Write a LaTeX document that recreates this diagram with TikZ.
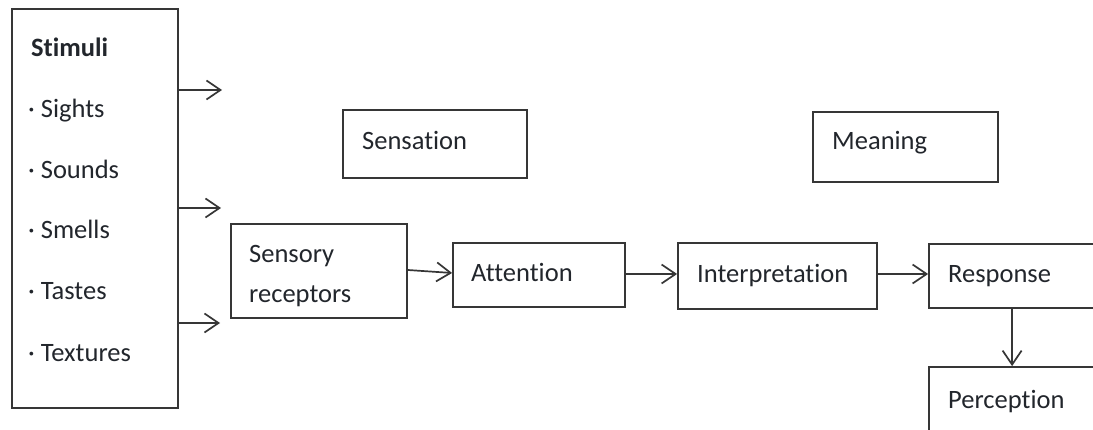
\documentclass[tikz,border=0pt]{standalone}
\usepackage{fontspec}
\setmainfont{Carlito}[Ligatures={NoCommon}]
\usetikzlibrary{arrows.meta}
\definecolor{linegray}{HTML}{363636}
\definecolor{textgray}{HTML}{22262C}
\begin{document}
\begin{tikzpicture}[x=1pt,y=-1pt,
  box/.style={draw=linegray, line width=1.8pt, rectangle, inner sep=0pt},
  lbl/.style={anchor=base west, inner sep=0pt, text=textgray,
              font=\fontsize{26.5}{30}\selectfont},
  arr/.style={draw=linegray, line width=1.7pt,
              -{Straight Barb[length=14pt,width=19pt,line width=1.7pt]}}]
  % page frame; boxes on the right run past the edge
  \clip (0,0) rectangle (1093,430);
  \fill[white] (0,0) rectangle (1093,430);

  % boxes
  \node[box, minimum width=166pt, minimum height=399pt] (stim) at (95,208.5) {};
  \node[box, minimum width=184pt, minimum height=68pt]  (sens) at (435,144) {};
  \node[box, minimum width=185pt, minimum height=70pt]  (mean) at (905.5,147) {};
  \node[box, minimum width=176pt, minimum height=94pt]  (rec)  at (319,271) {};
  \node[box, minimum width=172pt, minimum height=64pt]  (att)  at (539,275) {};
  \node[box, minimum width=199pt, minimum height=66pt]  (intp) at (777.5,276) {};
  \node[box, minimum width=191pt, minimum height=64pt]  (resp) at (1024.5,276) {};
  \node[box, minimum width=191pt, minimum height=83pt]  (perc) at (1024.5,408.5) {};

  % texts
  \node[lbl, font=\fontsize{26.5}{30}\selectfont\bfseries] (tstim) at (31,57) {Stimuli};
  \node[lbl] (t1) at (28,118) {· Sights};
  \node[lbl] (t2) at (28,179) {· Sounds};
  \node[lbl] (t3) at (28,239) {· Smells};
  \node[lbl] (t4) at (28,300) {· Tastes};
  \node[lbl] (t5) at (28,362) {· Textures};
  \node[lbl] (tsens) at (362,150) {Sensation};
  \node[lbl] (tmean) at (832,150) {Meaning};
  \node[lbl] (trec1) at (249,263) {Sensory};
  \node[lbl] (trec2) at (249,303) {receptors};
  \node[lbl] (tatt)  at (471,282) {Attention};
  \node[lbl] (tintp) at (697,283) {Interpretation};
  \node[lbl] (tresp) at (948,283) {Response};
  \node[lbl] (tperc) at (948,408) {Perception};

  % free ends of the stimulus arrows
  \coordinate (s1) at (222,90);
  \coordinate (s2) at (221,208);
  \coordinate (s3) at (220,323);

  % connectors
  \draw[arr] (stim.east |- s1) -- (s1);
  \draw[arr] (stim.east |- s2) -- (s2);
  \draw[arr] (stim.east |- s3) -- (s3);
  \draw[arr] ([yshift=1pt]rec.east) -- ([yshift=2pt]att.west);
  \draw[arr] ([yshift=1pt]att.east) -- ([yshift=2pt]intp.west);
  \draw[arr] ([yshift=2pt]intp.east) -- ([yshift=2pt]resp.west);
  \draw[arr] ([xshift=84pt]resp.south west) -- ([xshift=84pt]resp.south west |- perc.north);
\end{tikzpicture}
\end{document}
